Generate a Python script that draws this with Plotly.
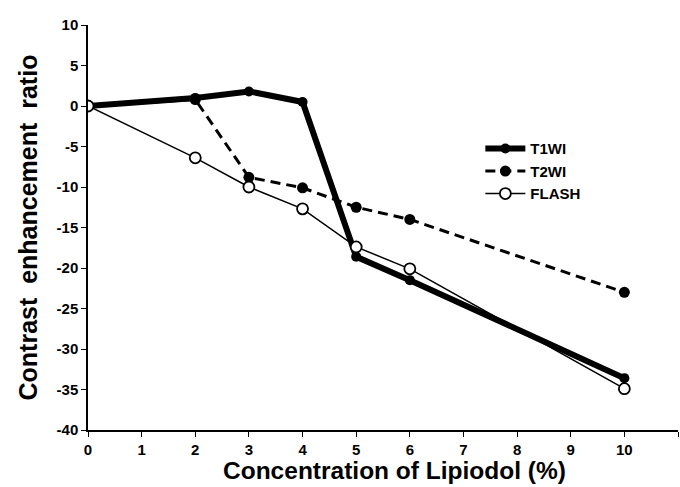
import plotly.graph_objects as go

concentration = [0, 2, 3, 4, 5, 6, 10]
t1wi = [0, 1.0, 1.8, 0.5, -18.6, -21.5, -33.6]
t2wi = [0, 0.8, -8.8, -10.1, -12.5, -14.0, -23.0]
flash = [0, -6.4, -10.0, -12.7, -17.4, -20.1, -34.9]

x_ticks = list(range(0, 12))
y_ticks = list(range(-40, 11, 5))

x_title = "Concentration of Lipiodol (%)"
y_title = "Contrast  enhancement  ratio"

fig = go.Figure()
fig.add_trace(go.Scatter(
    x=concentration, y=t1wi, name="T1WI", mode="lines+markers",
    line=dict(color="black", width=6),
    marker=dict(color="black", size=10, symbol="circle"),
))
fig.add_trace(go.Scatter(
    x=concentration, y=t2wi, name="T2WI", mode="lines+markers",
    line=dict(color="black", width=3, dash="10px,6px"),
    marker=dict(color="black", size=11, symbol="circle"),
))
fig.add_trace(go.Scatter(
    x=concentration, y=flash, name="FLASH", mode="lines+markers",
    line=dict(color="black", width=1.5),
    marker=dict(color="white", size=11, symbol="circle",
                line=dict(color="black", width=1.8)),
))

font_family = "Liberation Sans, Arial, sans-serif"
fig.update_layout(
    width=680, height=487,
    margin=dict(l=88, r=2, t=25, b=57),
    plot_bgcolor="white", paper_bgcolor="white",
    font=dict(family=font_family, color="black"),
    showlegend=True,
    legend=dict(
        x=0.665, y=0.735, xanchor="left", yanchor="top",
        bgcolor="rgba(0,0,0,0)",
        font=dict(size=15, family=font_family, weight="bold"),
        itemwidth=40,
    ),
    xaxis=dict(
        range=[0, 11], tickmode="array", tickvals=x_ticks,
        ticktext=[str(v) for v in x_ticks],
        showgrid=False, zeroline=False,
        showline=True, linecolor="black", linewidth=1.5,
        ticks="outside", ticklen=5, tickwidth=1.3, tickcolor="black",
        tickfont=dict(size=15, family=font_family, weight="bold"),
    ),
    yaxis=dict(
        range=[-40, 10], tickmode="array", tickvals=y_ticks,
        ticktext=[str(v) for v in y_ticks],
        showgrid=False, zeroline=False,
        showline=True, linecolor="black", linewidth=1.5,
        ticks="outside", ticklen=5, tickwidth=1.3, tickcolor="black",
        tickfont=dict(size=15, family=font_family, weight="bold"),
    ),
    annotations=[
        dict(text=x_title, xref="paper", yref="paper", x=0.52, y=-0.101,
             xanchor="center", yanchor="middle", showarrow=False,
             font=dict(size=24.5, family=font_family, weight="bold")),
        dict(text=y_title, xref="paper", yref="paper", x=-0.1017, y=0.5,
             xanchor="center", yanchor="middle", showarrow=False,
             textangle=-90,
             font=dict(size=25, family=font_family, weight="bold")),
    ],
)

fig.write_html("out.html",
               config={"displayModeBar": False},
               post_script="document.body.style.margin='0';document.body.style.padding='0';")
